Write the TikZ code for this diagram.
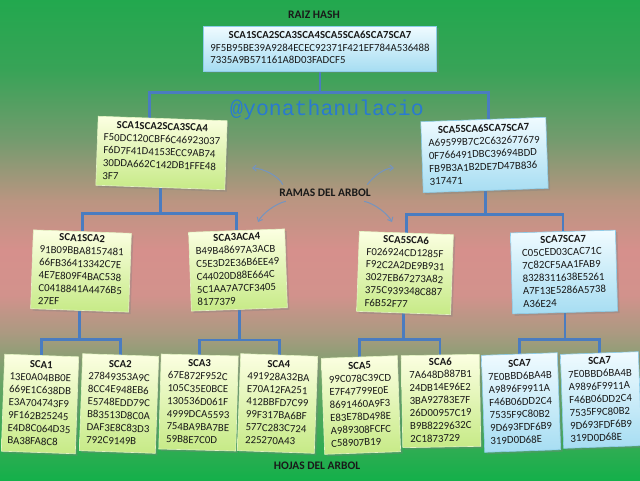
\documentclass[tikz,border=0pt]{standalone}
\usepackage{fontspec}
\setmainfont{Carlito}
\newfontfamily\handlefont{Liberation Mono}
\usetikzlibrary{shadows,calc,arrows.meta}
\pgfdeclarelayer{bgshade}
\pgfdeclarelayer{edges}
\pgfsetlayers{bgshade,edges,main}
\definecolor{connc}{HTML}{4A7CC0}
\definecolor{gtop}{HTML}{FCFFE2}
\definecolor{gbot}{HTML}{C6EA86}
\definecolor{gedge}{HTML}{E4F4C4}
\definecolor{btop}{HTML}{F0FBFF}
\definecolor{bbot}{HTML}{A6DDF2}
\definecolor{bedge}{HTML}{8CCDEA}
\definecolor{handlec}{HTML}{2A7AD0}
\definecolor{arrc}{HTML}{7494C0}
\definecolor{bga}{HTML}{22A84E}
\definecolor{bgb}{HTML}{38A357}
\definecolor{bgc}{HTML}{749B6E}
\definecolor{bgd}{HTML}{BA9581}
\definecolor{bge}{HTML}{D6908C}
\definecolor{bgf}{HTML}{D2928C}
\definecolor{bgg}{HTML}{A89A80}
\definecolor{bgh}{HTML}{66A564}
\definecolor{bgi}{HTML}{14B04A}
\newcommand{\hexbox}[2]{\begin{tabular}{@{}l@{}}\multicolumn{1}{@{}c@{}}{\bfseries #1}\\#2\end{tabular}}
\begin{document}
\begin{tikzpicture}[x=1pt,y=-1pt,
  hbox/.style={line width=0.6pt, inner xsep=4pt, inner ysep=1pt,
    font=\fontsize{10.8}{12.8}\selectfont, text=black!90,
    drop shadow={opacity=0.35,shadow xshift=2pt,shadow yshift=-2pt}},
  gbox/.style={hbox, top color=gtop, bottom color=gbot, draw=gedge},
  bbox/.style={hbox, top color=btop, bottom color=bbot, draw=bedge},
  conn/.style={draw=connc, line width=2.6pt},
  lbl/.style={font=\bfseries\fontsize{11.5}{13}\selectfont, text=black!90},
  ramarrow/.style={draw=arrc, line width=1pt, -{Straight Barb[length=3.5pt,width=6pt]}}]
\useasboundingbox (0,0) rectangle (640,480);
\begin{pgfonlayer}{bgshade}
\shade[top color=bga, bottom color=bgb] (0,0) rectangle (640,70.5);
\shade[top color=bgb, bottom color=bgc] (0,70) rectangle (640,140.5);
\shade[top color=bgc, bottom color=bgd] (0,140) rectangle (640,200.5);
\shade[top color=bgd, bottom color=bge] (0,200) rectangle (640,250.5);
\shade[top color=bge, bottom color=bgf] (0,250) rectangle (640,295.5);
\shade[top color=bgf, bottom color=bgg] (0,295) rectangle (640,335.5);
\shade[top color=bgg, bottom color=bgh] (0,335) rectangle (640,385.5);
\shade[top color=bgh, bottom color=bgi] (0,385) rectangle (640,480);
\end{pgfonlayer}

% labels
\node[lbl] (raiz) at (314,15) {RAIZ HASH};
\node[lbl] (ramas) at (325,193) {RAMAS DEL ARBOL};
\node[lbl] (hojas) at (317,466) {HOJAS DEL ARBOL};
\node[font=\handlefont\fontsize{21.5}{24}\selectfont, text=handlec] (handle) at (327,110) {@yonathanulacio};

% root
\node[bbox, minimum width=233pt, minimum height=45pt] (root) at (320,48.5)
  {\hexbox{SCA1SCA2SCA3SCA4SCA5SCA6SCA7SCA7}{9F5B95BE39A9284ECEC92371F421EF784A536488\\7335A9B571161A8D03FADCF5}};

% level 2
\node[gbox, minimum width=129pt, minimum height=69pt, rotate=-2] (l2a) at (161.5,153)
  {\hexbox{SCA1SCA2SCA3SCA4}{F50DC120CBF6C46923037\\F6D7F41D4153ECC9AB74\\30DDA662C142DB1FFE48\\3F7}};
\node[bbox, minimum width=125pt, minimum height=71pt, rotate=2] (l2b) at (484.5,155)
  {\hexbox{SCA5SCA6SCA7SCA7}{A69599B7C2C632677679\\0F766491DBC39694BDD\\FB9B3A1B2DE7D47B836\\317471}};

% level 3
\node[gbox, minimum width=98pt, minimum height=78pt, rotate=-2] (l3a) at (81,271)
  {\hexbox{SCA1SCA2}{91B09BBA8157481\\66FB36413342C7E\\4E7E809F4BAC538\\C0418841A4476B5\\27EF}};
\node[gbox, minimum width=96pt, minimum height=77pt, rotate=2] (l3b) at (238,270)
  {\hexbox{SCA3ACA4}{B49B48697A3ACB\\C5E3D2E36B6EE49\\C44020D88E664C\\5C1AA7A7CF3405\\8177379}};
\node[gbox, minimum width=94pt, minimum height=80pt, rotate=-2] (l3c) at (405,273)
  {\hexbox{SCA5SCA6}{F026924CD1285F\\F92C2A2DE9B931\\3027EB67273A82\\375C939348C887\\F6B52F77}};
\node[bbox, minimum width=105pt, minimum height=81pt, rotate=1.5] (l3d) at (564,272)
  {\hexbox{SCA7SCA7}{C05CED03CAC71C\\7C82CF5AA1FAB9\\8328311638E5261\\A7F13E5286A5738\\A36E24}};

% leaves
\node[gbox, minimum width=74pt, minimum height=97pt, rotate=-2] (l4a) at (40,404)
  {\hexbox{SCA1}{13E0A04BB0E\\669E1C638DB\\E3A704743F9\\9F162B25245\\E4D8C064D35\\BA38FA8C8}};
\node[gbox, minimum width=76pt, minimum height=97pt, rotate=-2] (l4b) at (119,403.5)
  {\hexbox{SCA2}{27849353A9C\\8CC4E948EB6\\E5748EDD79C\\B83513D8C0A\\DAF3E8C83D3\\792C9149B}};
\node[gbox, minimum width=77pt, minimum height=95pt, rotate=-1.5] (l4c) at (198.5,402.5)
  {\hexbox{SCA3}{67E872F952C\\105C35E0BCE\\130536D061F\\4999DCA5593\\754BA9BA7BE\\59B8E7C0D}};
\node[gbox, minimum width=77pt, minimum height=97pt, rotate=-2] (l4d) at (277.5,403.5)
  {\hexbox{SCA4}{491928A32BA\\E70A12FA251\\412BBFD7C99\\99F317BA6BF\\577C283C724\\225270A43}};
\node[gbox, minimum width=76pt, minimum height=96pt, rotate=2] (l4e) at (361,405)
  {\hexbox{SCA5}{99C078C39CD\\E7F47799E0E\\8691460A9F3\\E83E78D498E\\A989308FCFC\\C58907B19}};
\node[gbox, minimum width=78pt, minimum height=92pt, rotate=1] (l4f) at (441,401)
  {\hexbox{SCA6}{7A648D887B1\\24DB14E96E2\\3BA92783E7F\\26D00957C19\\B9B8229632C\\2C1873729}};
\node[bbox, minimum width=76pt, minimum height=97pt, rotate=2] (l4g) at (521,402.5)
  {\hexbox{SCA7}{7E0BBD6BA4B\\A9896F9911A\\F46B06DD2C4\\7535F9C80B2\\9D693FDF6B9\\319D0D68E}};
\node[bbox, minimum width=78pt, minimum height=94pt, rotate=2] (l4h) at (601,400)
  {\hexbox{SCA7}{7E0BBD6BA4B\\A9896F9911A\\F46B06DD2C4\\7535F9C80B2\\9D693FDF6B9\\319D0D68E}};

% connectors
\coordinate (l2at) at ($(l2a.north west)!0.4!(l2a.north east)$);
\coordinate (l2bt) at ($(l2b.north west)!0.54!(l2b.north east)$);
\begin{pgfonlayer}{edges}
\draw[conn] (root.south) -- ++(0,21);
\draw[conn] (l2at) |- ($(root.south)+(0,21)$) -| (l2bt);
\draw[conn] (l2a.south) -- ++(0,26);
\draw[conn] (l3a.north) |- ($(l2a.south)+(0,26)$) -| (l3b.north);
\draw[conn] (l2b.south) -- ++(0,23.5);
\draw[conn] (l3c.north) |- ($(l2b.south)+(0,23.5)$) -| (l3d.north);
\draw[conn] (l3a.south) -- ++(0,29);
\draw[conn] (l4a.north) |- ($(l3a.south)+(0,29)$) -| (l4b.north);
\draw[conn] (l3b.south) -- ++(0,30.5);
\draw[conn] (l4c.north) |- ($(l3b.south)+(0,30.5)$) -| (l4d.north);
\draw[conn] (l3c.south) -- ++(0,26);
\draw[conn] (l4e.north) |- ($(l3c.south)+(0,26)$) -| (l4f.north);
\draw[conn] (l3d.south) -- ++(0,26.5);
\draw[conn] (l4g.north) |- ($(l3d.south)+(0,26.5)$) -| (l4h.north);
\end{pgfonlayer}

% curved arrows around RAMAS DEL ARBOL
\coordinate (ul) at (252,168);
\coordinate (ur) at (394,168);
\coordinate (dl) at (258,222);
\coordinate (dr) at (392,222);
\draw[ramarrow] ($(ramas.north west)+(7,-1)$) .. controls +(-4,-9) and +(10,0) .. (ul);
\draw[ramarrow] ($(ramas.north east)+(-7,-1)$) .. controls +(6,-8) and +(-10,0) .. (ur);
\draw[ramarrow] ($(ramas.south west)+(10,1)$) .. controls +(-10,2) and +(4,-8) .. (dl);
\draw[ramarrow] ($(ramas.south east)+(-10,1)$) .. controls +(10,2) and +(-4,-8) .. (dr);
\end{tikzpicture}
\end{document}
